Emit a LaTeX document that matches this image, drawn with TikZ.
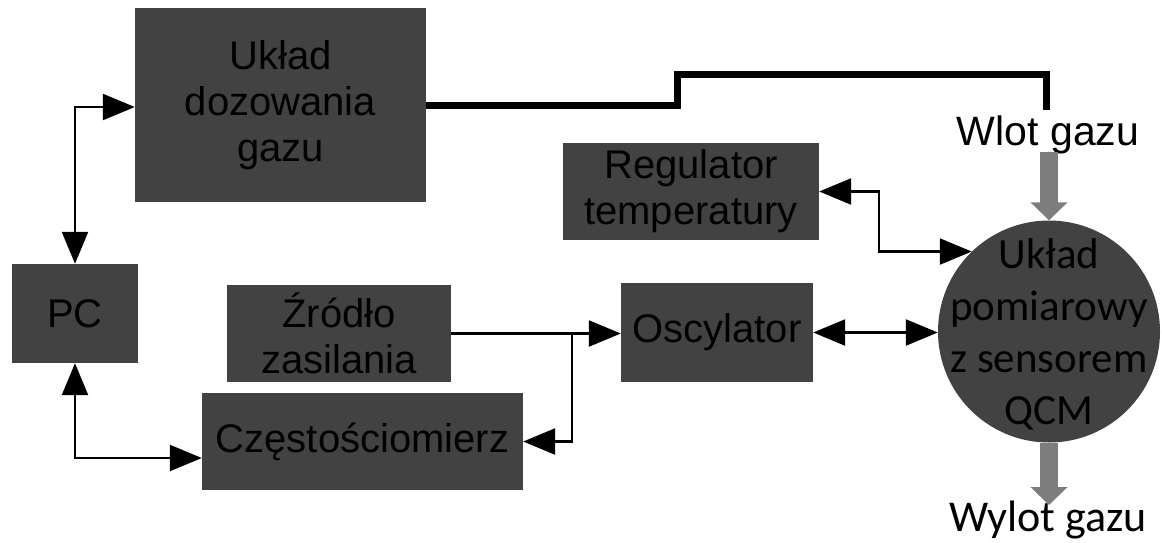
\documentclass[tikz,border=0pt]{standalone}
\usepackage{fontspec}
\setmainfont{Liberation Sans}
\newfontfamily\calib{Carlito}
\usetikzlibrary{arrows.meta,calc}
\definecolor{boxgray}{RGB}{66,66,66}
\definecolor{pipegray}{RGB}{125,125,125}
\begin{document}
\begin{tikzpicture}[x=1pt,y=-1pt,
  >={Triangle[length=32pt,width=26pt]},
  blk/.style={draw=none, fill=boxgray, inner sep=0pt, align=center,
    font=\fontsize{40}{46}\selectfont, text=black},
  conn/.style={line width=2.4pt, black},
  pipe/.style={line width=7pt, black, line join=miter},
  gas/.style={line width=18pt, pipegray, -{Triangle[length=18pt,width=36pt]}},
  lbl/.style={inner sep=0pt, text=black, align=center}]
\useasboundingbox[fill=white] (0,0) rectangle (1162,542);

\node[blk, minimum width=291pt, minimum height=194pt] (dozo) at (280.5,105) {Układ\\dozowania\\gazu};
\node[blk, minimum width=126pt, minimum height=99pt] (pc) at (75,313.5) {PC};
\node[blk, minimum width=224pt, minimum height=97pt] (zrodlo) at (339,333.5) {Źródło\\zasilania};
\node[blk, minimum width=321pt, minimum height=97pt] (czest) at (362.5,441.5) {Częstościomierz};
\node[blk, minimum width=256pt, minimum height=97pt] (reg) at (691,191.5) {Regulator\\temperatury};
\node[blk, minimum width=192pt, minimum height=99pt] (osc) at (717,332.5) {Oscylator};
\node[blk, circle, minimum size=222pt] (circ) at (1049,331.5) {};
\node[lbl, font=\calib\fontsize{43}{52}\selectfont] (circtxt) at (1049,334) {Układ\\pomiarowy\\z sensorem\\QCM};

\node[lbl, font=\fontsize{41}{46}\selectfont] (wlot) at (1048,135) {Wlot gazu};
\node[lbl, font=\calib\fontsize{44}{50}\selectfont] (wylot) at (1048,520) {Wylot gazu};

\coordinate (s1) at (677,74);
\coordinate (s2) at (1046,110);
\coordinate (j1) at (572,333.5);
\coordinate (k1) at (879,0);
\coordinate (p1) at (75,458);

% pipe from gas dosing to inlet
\draw[pipe] (dozo.east) -| (s1) -- (s1 -| s2) -- (s2);

% gas in / out
\draw[gas] (1049,152) -- (circ.north);
\draw[gas] (circ.south) -- (1049,505);

% PC links
\draw[conn, <->] (dozo.west |- 0,107) -| (pc.north);
\draw[conn, <->] (pc.south) |- (czest.west |- p1);

% power to oscillator, branch to counter
\draw[conn, ->] (zrodlo.east) -- (osc.west |- zrodlo.east);
\draw[conn, ->] (j1) |- (czest.east);

% oscillator <-> sensor
\draw[conn, <->] (osc.east) -- (circ.west |- osc.east);

% temperature regulator <-> sensor
\draw[conn, <->] (reg.east) -- (reg.east -| k1) |- (circ.134);
\end{tikzpicture}
\end{document}
